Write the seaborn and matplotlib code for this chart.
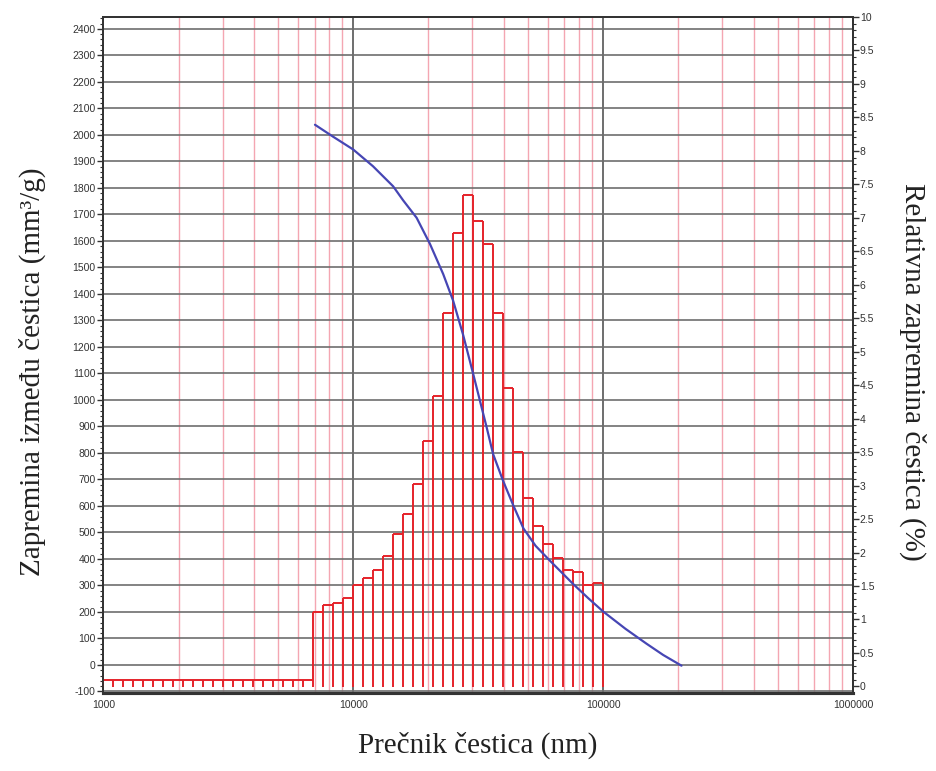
import numpy as np
import matplotlib
matplotlib.use("Agg")
import matplotlib.pyplot as plt
from matplotlib.ticker import MultipleLocator, FixedLocator, LogLocator, NullFormatter, FuncFormatter
import seaborn as sns
import pandas as pd

# ---- data ----
bin_step = 0.04                      # decade width of each bin
empty_bins = 21                      # bins from 1000 nm that carry no volume
empty_level = -57                    # level drawn for the empty bins (mm3/g)
bar_base = -82                       # baseline of the bars (mm3/g)
volume = [200, 225, 233, 252, 302, 327, 358, 412, 493, 569, 682, 845,
          1016, 1329, 1631, 1774, 1675, 1588, 1329, 1044, 805, 629, 526,
          455, 403, 358, 352, 302, 308]                       # mm3/g
curve_d = [7030, 8320, 10000, 12000, 14450, 15850, 17940, 20280, 22910,
           25120, 27540, 30200, 34200, 36300, 39800, 43650, 48000, 53700,
           61200, 75900, 87100, 100000, 123000, 149000, 174000, 206000]  # nm
curve_rel = [8.39, 8.21, 8.02, 7.77, 7.47, 7.26, 7.0, 6.61, 6.16,
             5.76, 5.25, 4.67, 3.87, 3.47, 3.07, 2.71, 2.36, 2.10,
             1.88, 1.53, 1.32, 1.12, 0.86, 0.64, 0.47, 0.31]          # %
x_ticks = [1000, 10000, 100000, 1000000]

n_bins = empty_bins + len(volume)
edges = 10 ** (3 + bin_step * np.arange(n_bins + 1))
heights = np.array([empty_level] * empty_bins + volume, dtype=float)

sns.set_style("white")
plt.rcParams["font.family"] = ["Liberation Sans", "DejaVu Sans"]
plt.rcParams["axes.unicode_minus"] = False

fig = plt.figure(figsize=(9.37, 7.71), dpi=100)
ax = fig.add_axes([0.1103, 0.1016, 0.8000, 0.8764])
ax2 = ax.twinx()

# right axis curve (seaborn)
df = pd.DataFrame({"d": curve_d, "rel": curve_rel})
sns.lineplot(data=df, x="d", y="rel", ax=ax2, color="#4646b4", lw=1.6,
             zorder=5)

for a in (ax, ax2):
    a.set_xscale("log")
    a.set_xlim(1000, 1000000)
ax.set_ylim(-104.5, 2445)
ax2.set_ylim(-0.093, 10)

# grid / ticks on the left axes
ax.xaxis.set_major_locator(FixedLocator(x_ticks))
ax.xaxis.set_minor_locator(LogLocator(base=10, subs=np.arange(2, 10)))
ax.xaxis.set_minor_formatter(NullFormatter())
ax.xaxis.set_major_formatter(FuncFormatter(lambda v, p: f"{int(round(v))}"))
ax.yaxis.set_major_locator(MultipleLocator(100))
ax.yaxis.set_minor_locator(MultipleLocator(20))
ax.yaxis.set_major_formatter(FuncFormatter(lambda v, p: f"{int(round(v))}"))
ax.grid(True, which="minor", axis="x", color="#f4a6b2", lw=1.0, zorder=0)
ax.grid(True, which="major", axis="x", color="#555555", lw=1.2, zorder=0)
ax.grid(True, which="major", axis="y", color="#6e6e6e", lw=1.2, zorder=0)
ax.set_axisbelow(True)

# bars: tops and shared vertical edges, open at the bottom
bar_red = "#e5232a"
ax.hlines(heights, edges[:-1], edges[1:], color=bar_red, lw=1.4, zorder=3)
padded = np.concatenate([[bar_base], heights, [bar_base]])
edge_tops = np.maximum(padded[:-1], padded[1:])
ax.vlines(edges, bar_base, edge_tops, color=bar_red, lw=1.4, zorder=3)

ax.tick_params(axis="both", which="major", direction="out", length=4, width=1,
               labelsize=7.5, labelcolor="#333333", color="#333333", pad=1.5)
ax.tick_params(axis="both", which="minor", direction="out", length=2.5,
               width=0.8, color="#333333")
for s in ax.spines.values():
    s.set_color("#333333")
    s.set_linewidth(1.3)
ax.spines["bottom"].set_linewidth(2.2)

# right axis ticks
ax2.yaxis.set_major_locator(MultipleLocator(0.5))
ax2.yaxis.set_minor_locator(MultipleLocator(0.1))
ax2.yaxis.set_major_formatter(FuncFormatter(lambda v, p: f"{v:g}"))
ax2.tick_params(axis="y", which="major", direction="out", length=4, width=1,
                labelsize=7.5, labelcolor="#333333", color="#333333", pad=1)
ax2.tick_params(axis="y", which="minor", direction="out", length=2.5,
                width=0.8, color="#333333")
ax2.set_xlabel("")
ax2.set_ylabel("")
ax2.grid(False)
for s in ax2.spines.values():
    s.set_color("#333333")
    s.set_linewidth(1.3)
ax2.spines["bottom"].set_linewidth(2.2)

serif = ["Liberation Serif", "DejaVu Serif"]
fig.text(478 / 937, 0.033, "Prečnik čestica (nm)", ha="center",
         va="center", fontsize=21, family=serif, color="#222222")
fig.text(32 / 937, 1 - 372 / 771, "Zapremina između čestica (mm³/g)",
         ha="center", va="center", rotation=90, fontsize=21, family=serif,
         color="#222222")
fig.text(913 / 937, 1 - 372 / 771, "Relativna zapremina čestica (%)",
         ha="center", va="center", rotation=-90, fontsize=21, family=serif,
         color="#222222")

fig.savefig("out.png", dpi=100, facecolor="white")
